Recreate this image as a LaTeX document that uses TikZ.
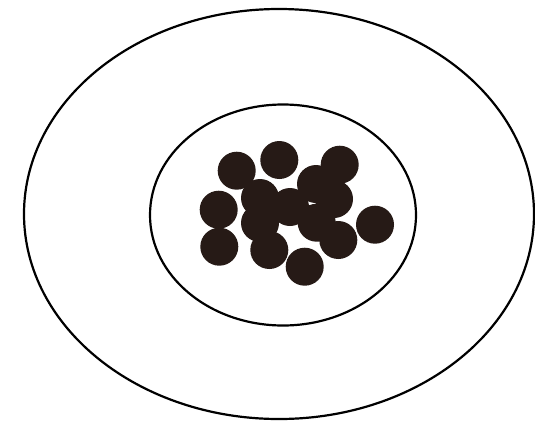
\documentclass[tikz,border=0pt]{standalone}
\begin{document}
\begin{tikzpicture}[x=1pt,y=-1pt,
  ring/.style={draw=black,line width=2.2pt},
  dot/.style={fill=dotcol}]
\definecolor{dotcol}{RGB}{38,26,22}
\useasboundingbox (0,0) rectangle (535,421);
\fill[white] (0,0) rectangle (535,421);
\draw[ring] (279,214) ellipse [x radius=255, y radius=205];
\draw[ring] (283,215) ellipse [x radius=133, y radius=110.5];
\foreach \x/\y in {236.7/170.7, 279.3/160, 339.7/164.7, 218.7/209.7, 219.3/246.7,
  269.3/250, 304.7/266.7, 375/224.7, 338.3/240, 316/184, 334/199,
  260/198, 260/223, 316.7/222.7, 290/207}
  \fill[dot] (\x,\y) circle [radius=19];
\end{tikzpicture}
\end{document}
